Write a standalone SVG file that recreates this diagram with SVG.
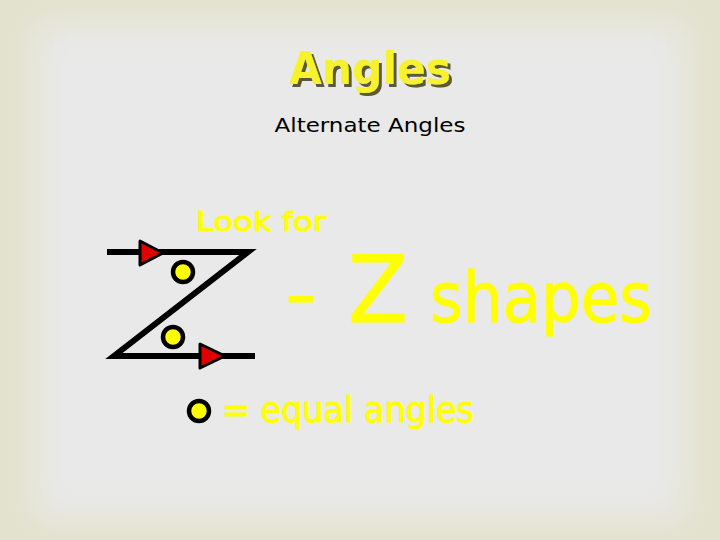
<svg xmlns="http://www.w3.org/2000/svg" width="720" height="540" viewBox="0 0 720 540">
<defs>
<filter id="soft" x="-10%" y="-10%" width="120%" height="120%"><feGaussianBlur stdDeviation="18"/></filter>
<filter id="shadow" x="-10%" y="-20%" width="130%" height="150%">
<feOffset in="SourceAlpha" dx="3" dy="3" result="o"/>
<feFlood flood-color="#5a5a3a"/>
<feComposite in2="o" operator="in" result="s"/>
<feMerge><feMergeNode in="s"/><feMergeNode in="SourceGraphic"/></feMerge>
</filter>
<style>
.y{fill:#ffff00;stroke:#ffff00;stroke-width:1;font-family:"DejaVu Sans","Liberation Sans",sans-serif}
.ln{stroke:#000;stroke-width:6;fill:none}
.tri{fill:#e00000;stroke:#000;stroke-width:3;stroke-linejoin:round}
.dot{fill:#ffff00;stroke:#000;stroke-width:4.5}
</style>
</defs>
<rect width="720" height="540" fill="#e3e2cd"/>
<rect x="34" y="22" width="652" height="498" fill="#e9e9e9" filter="url(#soft)"/>
<g id="title">
<text x="370" y="84" text-anchor="middle" font-family="DejaVu Sans, sans-serif" font-weight="bold" font-size="44" fill="#f6f22e" textLength="162" lengthAdjust="spacingAndGlyphs" filter="url(#shadow)">Angles</text>
</g>
<g id="subtitle">
<text x="370" y="132" text-anchor="middle" font-family="DejaVu Sans, sans-serif" font-size="20" fill="#000" textLength="191" lengthAdjust="spacingAndGlyphs">Alternate Angles</text>
</g>
<g id="lookfor"><text class="y" x="196" y="231" font-size="27" textLength="130" lengthAdjust="spacingAndGlyphs">Look for</text></g>
<g id="zshapes">
<text class="y" x="285" y="318" font-size="70" textLength="32" lengthAdjust="spacingAndGlyphs">-</text>
<text class="y" x="348" y="322" font-size="92" textLength="60" lengthAdjust="spacingAndGlyphs">Z</text>
<text class="y" x="430" y="322" font-size="70" textLength="222" lengthAdjust="spacingAndGlyphs">shapes</text>
</g>
<g id="connectors">
<polyline class="ln" points="107,252 248,252 114,356 255,356"/>
</g>
<g id="arrow1"><polygon class="tri" points="140,241 163,253 140,265"/></g>
<g id="arrow2"><polygon class="tri" points="200,344 225,356 200,368"/></g>
<g id="angle1"><circle class="dot" cx="183" cy="272" r="10"/></g>
<g id="angle2"><circle class="dot" cx="173" cy="337" r="10"/></g>
<g id="legend">
<circle class="dot" cx="199" cy="411" r="10"/>
<text class="y" x="222" y="422" font-size="35" textLength="252" lengthAdjust="spacingAndGlyphs">= equal angles</text>
</g>
</svg>
